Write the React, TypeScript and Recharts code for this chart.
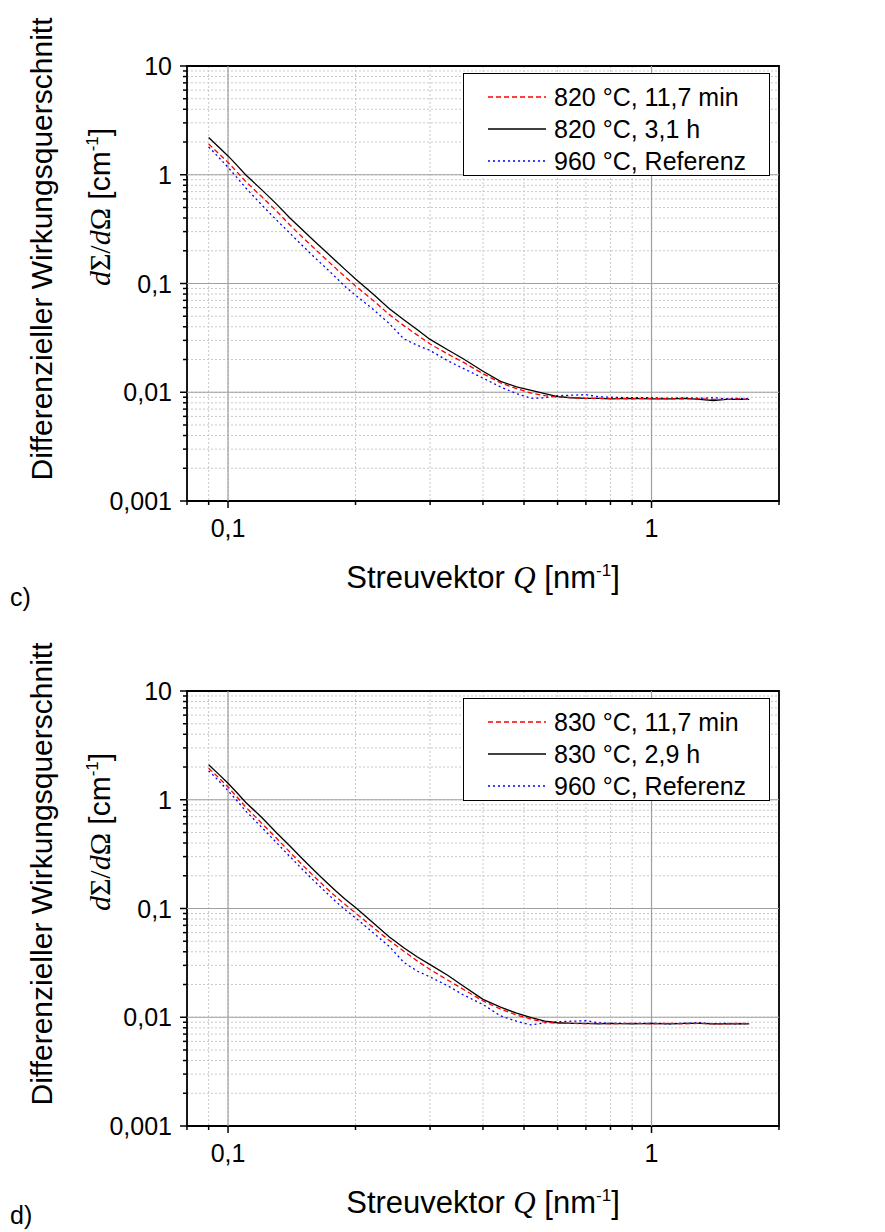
import React from 'react';
import {
  LineChart,
  Line,
  XAxis,
  YAxis,
  CartesianGrid,
  ReferenceLine,
  ReferenceArea
} from 'recharts';

// Streuvektor Q [nm^-1]
const qValues = [
  0.09, 0.095, 0.1, 0.105, 0.11, 0.12, 0.13, 0.14, 0.15, 0.16, 0.17, 0.18, 0.19, 0.2,
  0.22, 0.24, 0.26, 0.28, 0.3, 0.33, 0.36,
  0.4, 0.44, 0.48, 0.52, 0.56, 0.6,
  0.65, 0.7, 0.75, 0.8,
  0.9, 1.0, 1.1, 1.2, 1.3, 1.4, 1.5, 1.6, 1.7
];

// panel c)
const redC = [
  1.92, 1.57, 1.3, 1.06, 0.87, 0.63, 0.465, 0.345, 0.265, 0.21, 0.168, 0.137, 0.113, 0.095,
  0.07, 0.052, 0.041, 0.0335, 0.0278, 0.0225, 0.0188,
  0.0148, 0.0122, 0.0108, 0.0098, 0.0093, 0.009,
  0.0089, 0.0088, 0.0088, 0.0088,
  0.0087, 0.0088, 0.0087, 0.0087, 0.0087, 0.0086, 0.0086, 0.0087, 0.0086
];
const blackC = [
  2.2, 1.8, 1.49, 1.22, 1.0, 0.73, 0.54, 0.4, 0.31, 0.245, 0.197, 0.16, 0.132, 0.11,
  0.08, 0.059, 0.0465, 0.0375, 0.0306, 0.0246, 0.0202,
  0.0156, 0.0126, 0.0112, 0.0104, 0.0097, 0.0091,
  0.0089, 0.0088, 0.0088, 0.0087,
  0.0088, 0.0087, 0.0087, 0.0088, 0.0086, 0.0084, 0.0086, 0.0086, 0.0086
];
const blueC = [
  1.8, 1.45, 1.17, 0.94, 0.76, 0.53, 0.385, 0.29, 0.222, 0.174, 0.14, 0.113, 0.092, 0.078,
  0.058, 0.043, 0.031, 0.027, 0.0242, 0.0195, 0.0165,
  0.0135, 0.0112, 0.0097, 0.0088, 0.0089, 0.0093,
  0.0094, 0.0095, 0.0091, 0.009,
  0.0089, 0.0089, 0.0088, 0.0089, 0.0088, 0.0089, 0.0087, 0.0088, 0.0087
];

// panel d)
const redD = [
  1.95, 1.6, 1.31, 1.06, 0.86, 0.61, 0.445, 0.33, 0.25, 0.196, 0.156, 0.128, 0.107, 0.091,
  0.067, 0.051, 0.0405, 0.0328, 0.0275, 0.022, 0.018,
  0.0141, 0.0119, 0.0105, 0.0096, 0.009, 0.0088,
  0.0088, 0.0087, 0.0088, 0.0087,
  0.0088, 0.0087, 0.0088, 0.0087, 0.0088, 0.0087, 0.0087, 0.0088, 0.0087
];
const blackD = [
  2.1, 1.72, 1.42, 1.16, 0.95, 0.69, 0.5, 0.375, 0.285, 0.222, 0.177, 0.144, 0.12, 0.102,
  0.074, 0.055, 0.0435, 0.0358, 0.0305, 0.0243, 0.0193,
  0.0146, 0.0124, 0.0109, 0.0099, 0.0092, 0.0089,
  0.0088, 0.0088, 0.0087, 0.0088,
  0.0087, 0.0088, 0.0087, 0.0088, 0.0088, 0.0087, 0.0087, 0.0087, 0.0087
];
const blueD = [
  1.85, 1.5, 1.21, 0.98, 0.79, 0.56, 0.405, 0.3, 0.228, 0.178, 0.142, 0.115, 0.096, 0.082,
  0.06, 0.045, 0.032, 0.0265, 0.0235, 0.0195, 0.016,
  0.0131, 0.0103, 0.0092, 0.0085, 0.0089, 0.0091,
  0.0092, 0.0093, 0.0089, 0.0088,
  0.0088, 0.0088, 0.0087, 0.0088, 0.0089, 0.0087, 0.0088, 0.0087, 0.0088
];

const legendC = ['820 °C, 11,7 min', '820 °C, 3,1 h', '960 °C, Referenz'];
const legendD = ['830 °C, 11,7 min', '830 °C, 2,9 h', '960 °C, Referenz'];

const xTicks = [0.08, 0.09, 0.1, 0.2, 0.3, 0.4, 0.5, 0.6, 0.7, 0.8, 0.9, 1, 2];
const xMajor = [0.1, 1];
const xLabels = ['0,1', '1'];

const yTicks = [
  0.001, 0.002, 0.003, 0.004, 0.005, 0.006, 0.007, 0.008, 0.009,
  0.01, 0.02, 0.03, 0.04, 0.05, 0.06, 0.07, 0.08, 0.09,
  0.1, 0.2, 0.3, 0.4, 0.5, 0.6, 0.7, 0.8, 0.9,
  1, 2, 3, 4, 5, 6, 7, 8, 9, 10
];
const yMajor = [0.001, 0.01, 0.1, 1, 10];
const yLabels = ['0,001', '0,01', '0,1', '1', '10'];

const FONT = 'Arial, "Liberation Sans", sans-serif';
const SERIF = '"Times New Roman", "Liberation Serif", serif';

const XTick = (props: any) => {
  const { x, y, payload } = props;
  const i = xMajor.indexOf(payload.value);
  return (
    <g>
      <line x1={x} y1={y} x2={x} y2={y + (i >= 0 ? 7 : 4)} stroke="#000" strokeWidth={1.5} />
      {i >= 0 && (
        <text x={x} y={y + 36} textAnchor="middle" fontSize={25} fontFamily={FONT} fill="#000">
          {xLabels[i]}
        </text>
      )}
    </g>
  );
};

const YTick = (props: any) => {
  const { x, y, payload } = props;
  const i = yMajor.indexOf(payload.value);
  return (
    <g>
      <line x1={x - (i >= 0 ? 7 : 4)} y1={y} x2={x} y2={y} stroke="#000" strokeWidth={1.5} />
      {i >= 0 && (
        <text x={x - 15} y={y + 9} textAnchor="end" fontSize={25} fontFamily={FONT} fill="#000">
          {yLabels[i]}
        </text>
      )}
    </g>
  );
};

const series = [
  { key: 'red', color: '#ff0000', dash: '5 3' },
  { key: 'black', color: '#000000', dash: undefined },
  { key: 'blue', color: '#0000ff', dash: '2 3' }
];

interface PanelProps {
  red: number[];
  black: number[];
  blue: number[];
  names: string[];
  tag: string;
  tagY: number;
}

const Panel = ({ red, black, blue, names, tag, tagY }: PanelProps) => {
  const rows = qValues.map((q, i) => ({ q, red: red[i], black: black[i], blue: blue[i] }));

  return (
    <div style={{ position: 'relative', width: 885, height: 607 }}>
      <LineChart
        width={885}
        height={607}
        data={rows}
        margin={{ top: 66, right: 106, bottom: 105, left: 186 }}
      >
        <CartesianGrid stroke="#c8c8c8" strokeDasharray="2 2" />
        <ReferenceLine x={0.1} stroke="#a0a0a0" strokeWidth={1.2} />
        <ReferenceLine x={1} stroke="#a0a0a0" strokeWidth={1.2} />
        <ReferenceLine y={1} stroke="#a0a0a0" strokeWidth={1.2} />
        <ReferenceLine y={0.1} stroke="#a0a0a0" strokeWidth={1.2} />
        <ReferenceLine y={0.01} stroke="#a0a0a0" strokeWidth={1.2} />
        <XAxis
          dataKey="q"
          type="number"
          scale="log"
          domain={[0.08, 2]}
          ticks={xTicks}
          interval={0}
          allowDataOverflow
          axisLine={false}
          tickLine={false}
          tickSize={0}
          tickMargin={0}
          height={1}
          tick={<XTick />}
        />
        <YAxis
          type="number"
          scale="log"
          domain={[0.001, 10]}
          ticks={yTicks}
          interval={0}
          allowDataOverflow
          axisLine={false}
          tickLine={false}
          tickSize={0}
          tickMargin={0}
          width={1}
          tick={<YTick />}
        />
        {[...series].reverse().map((s) => (
          <Line
            key={s.key}
            dataKey={s.key}
            stroke={s.color}
            strokeDasharray={s.dash}
            strokeWidth={1.3}
            dot={false}
            isAnimationActive={false}
          />
        ))}
        <ReferenceArea x1={0.08} x2={2} y1={0.001} y2={10} fill="none" stroke="#000" strokeWidth={1.8} />
      </LineChart>

      <svg
        width={885}
        height={607}
        style={{ position: 'absolute', left: 0, top: 0, pointerEvents: 'none', overflow: 'visible' }}
      >
        <text x={483} y={588} textAnchor="middle" fontSize={31} fontFamily={FONT} fill="#000">
          Streuvektor{' '}
          <tspan fontFamily={SERIF} fontStyle="italic">Q</tspan>
          {' [nm'}
          <tspan dy={-12} fontSize={17}>-1</tspan>
          <tspan dy={12}>]</tspan>
        </text>
        <text
          transform="translate(52,249) rotate(-90)"
          textAnchor="middle"
          fontSize={30}
          fontFamily={FONT}
          fill="#000"
        >
          Differenzieller Wirkungsquerschnitt
        </text>
        <text
          transform="translate(110,207) rotate(-90)"
          textAnchor="middle"
          fontSize={30}
          fontFamily={FONT}
          fill="#000"
        >
          <tspan fontFamily={SERIF} fontStyle="italic">d</tspan>
          <tspan fontFamily={SERIF}>Σ/</tspan>
          <tspan fontFamily={SERIF} fontStyle="italic">d</tspan>
          <tspan fontFamily={SERIF}>Ω</tspan>
          {' [cm'}
          <tspan dy={-12} fontSize={17}>-1</tspan>
          <tspan dy={12}>]</tspan>
        </text>
        <text x={10} y={tagY} fontSize={25} fontFamily={FONT} fill="#000">
          {tag}
        </text>
      </svg>

      <div
        style={{
          position: 'absolute',
          left: 463,
          top: 73,
          width: 305,
          height: 101,
          border: '1px solid #000',
          background: '#fff',
          fontFamily: FONT,
          fontSize: 25,
          color: '#000'
        }}
      >
        {series.map((s, i) => (
          <div
            key={s.key}
            style={{
              position: 'absolute',
              left: 0,
              top: 8 + i * 32,
              height: 30,
              display: 'flex',
              alignItems: 'center',
              whiteSpace: 'nowrap'
            }}
          >
            <svg width={90} height={10}>
              <line
                x1={24}
                y1={5}
                x2={82}
                y2={5}
                stroke={s.color}
                strokeWidth={1.3}
                strokeDasharray={s.dash}
              />
            </svg>
            <span>{names[i]}</span>
          </div>
        ))}
      </div>
    </div>
  );
};

export default function App() {
  return (
    <div
      style={{
        position: 'absolute',
        left: 0,
        top: 0,
        width: 885,
        height: 1232,
        overflow: 'hidden',
        background: '#fff'
      }}
    >
      <div style={{ position: 'absolute', left: 0, top: 0 }}>
        <Panel red={redC} black={blackC} blue={blueC} names={legendC} tag="c)" tagY={606} />
      </div>
      <div style={{ position: 'absolute', left: 0, top: 625 }}>
        <Panel red={redD} black={blackD} blue={blueD} names={legendD} tag="d)" tagY={599} />
      </div>
    </div>
  );
}
